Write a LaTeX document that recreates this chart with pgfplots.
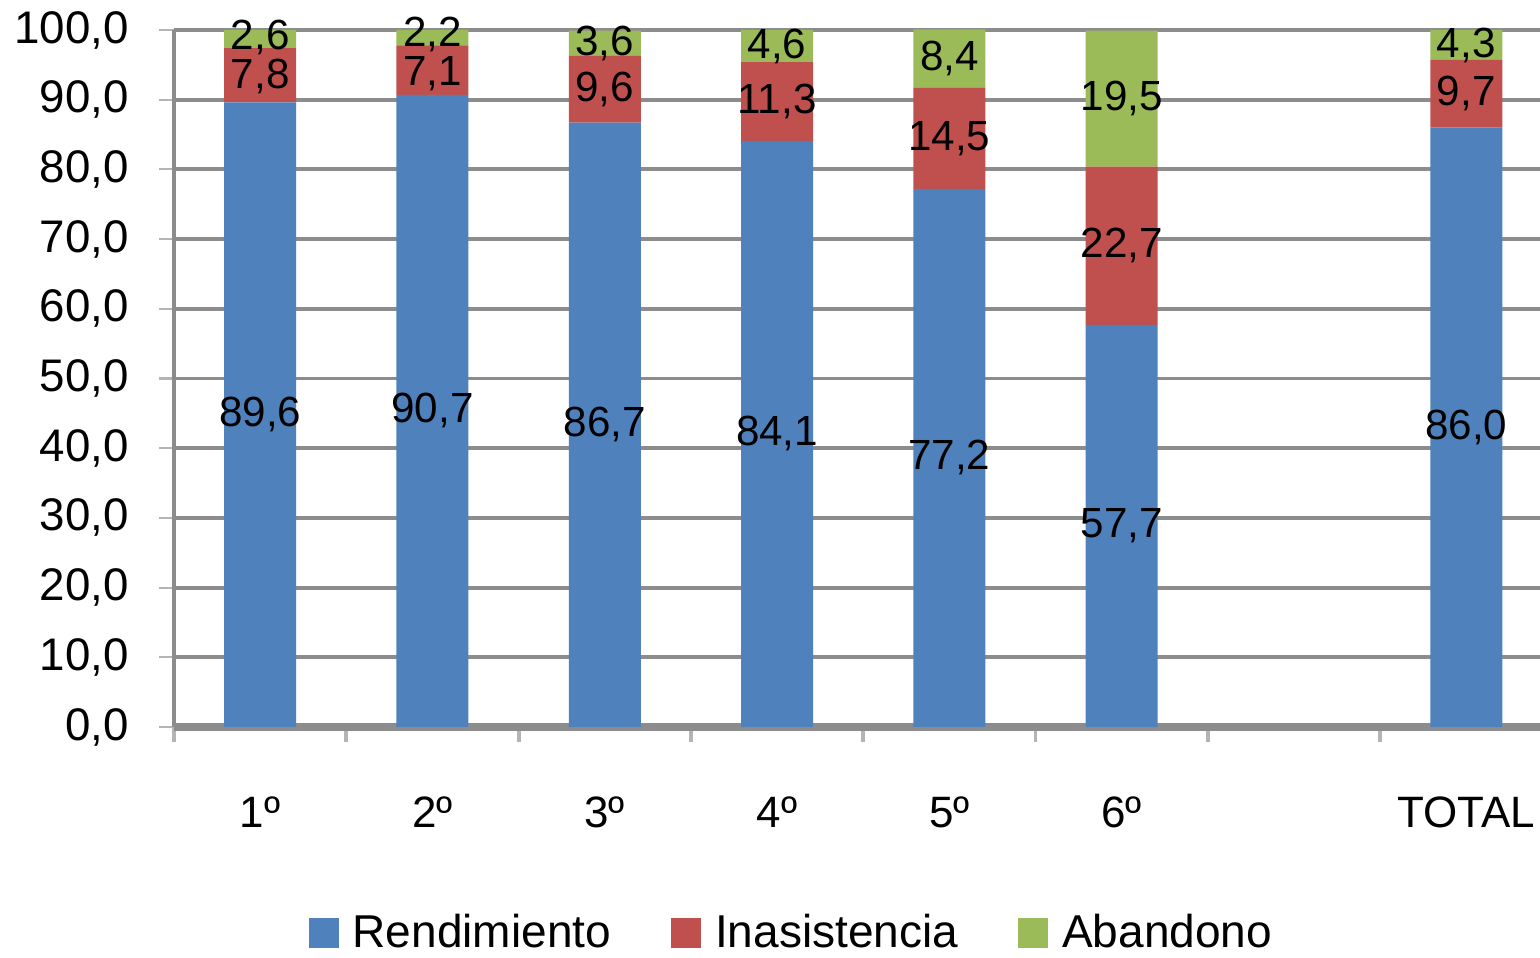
\documentclass[border=0pt]{standalone}
\usepackage{fontspec}
\setmainfont{Liberation Sans}
\usepackage{pgfplots}
\pgfplotsset{compat=1.18}
\definecolor{cblue}{HTML}{4F81BD}
\definecolor{cred}{HTML}{C0504D}
\definecolor{cgreen}{HTML}{9BBB59}
\definecolor{cgrid}{HTML}{8C8C8C}
\definecolor{ctick}{HTML}{B4B4B4}
\begin{document}
\begin{tikzpicture}[font=\fontsize{12}{14}\selectfont]
\path[use as bounding box] (0,0) rectangle (15.4,9.58);
\pgfplotsset{common/.style={at={(1.74cm,2.31cm)}, anchor=south west,
  width=13.66cm, height=6.97cm, scale only axis,
  xmin=-0.5, xmax=7.428, ymin=0, ymax=100,
  /pgf/number format/assume math mode=true}}
\begin{axis}[common, ybar stacked, bar width=0.72cm,
  axis x line=bottom, axis y line=left,
  axis line style={-, cgrid},
  x axis line style={line width=2.3pt},
  y axis line style={line width=1.1pt},
  ymajorgrids, grid style={cgrid, line width=1.1pt},
  ytick={0,10,...,100},
  yticklabel style={font=\fontsize{13}{15}\selectfont, xshift=-0.18cm,
    /pgf/number format/.cd, fixed, fixed zerofill, precision=1, use comma},
  ytick style={ctick, line width=0.6pt},
  tick align=outside, major tick length=0.15cm,
  xtick={-0.5,0.5,...,6.5}, xticklabels={},
  xtick style={ctick, line width=1.1pt},
  extra x ticks={0,1,2,3,4,5,7},
  extra x tick labels={1º,2º,3º,4º,5º,6º,TOTAL},
  extra x tick style={major tick length=0pt, xticklabel style={yshift=-0.57cm, font=\fontsize{12.5}{15}\selectfont}},
  legend style={at={(axis description cs:0.098,-0.2956)}, anchor=west,
    draw=none, fill=none, inner sep=0pt, legend columns=-1,
    font=\fontsize{13.1}{15}\selectfont,
    nodes={inner sep=0pt, anchor=west},
    /tikz/every odd column/.append style={column sep=0.14cm},
    /tikz/every even column/.append style={column sep=0.6cm}},
  legend image code/.code={\fill[#1] (0cm,-0.15cm) rectangle (0.3cm,0.15cm);},
]
\addplot[fill=cblue, draw=none] coordinates {(0,89.6)(1,90.7)(2,86.7)(3,84.1)(4,77.2)(5,57.7)(7,86.0)};
\addplot[fill=cred, draw=none] coordinates {(0,7.8)(1,7.1)(2,9.6)(3,11.3)(4,14.5)(5,22.7)(7,9.7)};
\addplot[fill=cgreen, draw=none] coordinates {(0,2.6)(1,2.2)(2,3.6)(3,4.6)(4,8.4)(5,19.5)(7,4.3)};
\legend{Rendimiento, Inasistencia, Abandono}
\end{axis}
\begin{axis}[common, hide axis, clip=false]
\addplot[draw=none, mark=none, nodes near coords, point meta=explicit,
  nodes near coords style={anchor=center, inner sep=0pt, text=black,
    /pgf/number format/.cd, fixed, fixed zerofill, precision=1, use comma, assume math mode=true}]
coordinates {
(0,44.8)[89.6] (0,93.4)[7.8] (0,98.9)[2.6]
(1,45.35)[90.7] (1,93.8)[7.1] (1,99.3)[2.2]
(2,43.35)[86.7] (2,91.5)[9.6] (2,98.1)[3.6]
(3,42.05)[84.1] (3,89.75)[11.3] (3,97.7)[4.6]
(4,38.6)[77.2] (4,84.45)[14.5] (4,95.9)[8.4]
(5,28.85)[57.7] (5,69.05)[22.7] (5,90.15)[19.5]
(7,43.0)[86.0] (7,90.85)[9.7] (7,97.85)[4.3]
};
\end{axis}
\end{tikzpicture}
\end{document}
